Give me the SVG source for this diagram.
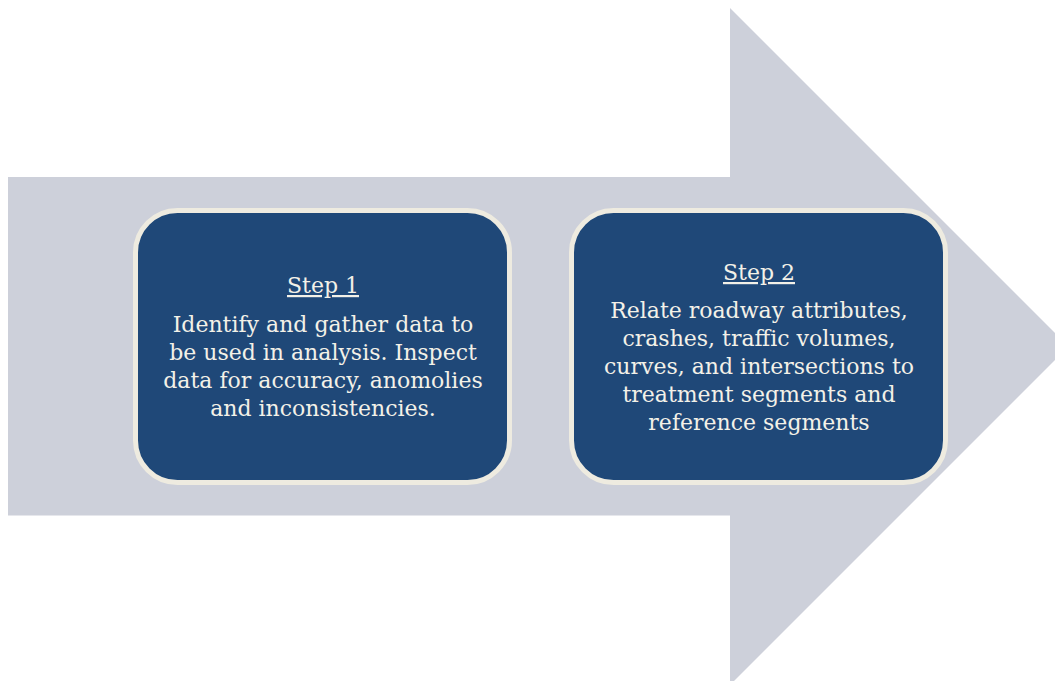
<svg xmlns="http://www.w3.org/2000/svg" width="1055" height="681" viewBox="0 0 1055 681">
  <style>
    .arrow { fill: #cdd0da; }
    .box { fill: #1f4878; stroke: #eeebe0; stroke-width: 5; }
    .txt { font-family: "DejaVu Serif", serif; font-size: 22px; fill: #f3f1e8; text-anchor: middle; }
    .head { text-decoration: underline; }
  </style>
  <rect width="1055" height="681" fill="#ffffff"/>

  <!-- background process arrow -->
  <g id="arrow">
    <path class="arrow" d="M8 177 H730 V8 L1068.5 346.5 L730 685 V515.5 H8 Z"/>
  </g>

  <g id="connectors"></g>

  <!-- step 1 -->
  <g id="step1">
    <rect class="box" x="135.5" y="210.5" width="374" height="272" rx="42"/>
    <text class="txt head" x="323" y="293">Step 1</text>
    <text class="txt" x="323" y="332">Identify and gather data to</text>
    <text class="txt" x="323" y="360">be used in analysis. Inspect</text>
    <text class="txt" x="323" y="388">data for accuracy, anomolies</text>
    <text class="txt" x="323" y="416">and inconsistencies.</text>
  </g>

  <!-- step 2 -->
  <g id="step2">
    <rect class="box" x="571.5" y="210.5" width="374" height="272" rx="42"/>
    <text class="txt head" x="759" y="280">Step 2</text>
    <text class="txt" x="759" y="318">Relate roadway attributes,</text>
    <text class="txt" x="759" y="346">crashes, traffic volumes,</text>
    <text class="txt" x="759" y="374">curves, and intersections to</text>
    <text class="txt" x="759" y="402">treatment segments and</text>
    <text class="txt" x="759" y="430">reference segments</text>
  </g>
</svg>
